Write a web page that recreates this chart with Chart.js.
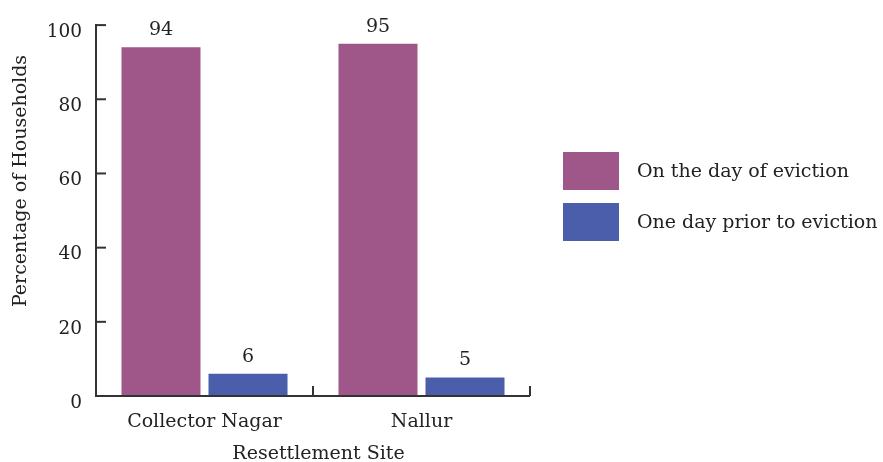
<!DOCTYPE html>
<html>
<head>
<meta charset="utf-8">
<script src="https://cdn.jsdelivr.net/npm/chart.js@4/dist/chart.umd.min.js"></script>
<style>
html,body{margin:0;padding:0;background:#fff;}
#wrap{width:883px;height:462px;position:relative;}
</style>
</head>
<body>
<div id="wrap"><canvas id="c" width="883" height="462"></canvas></div>
<script>
const categories = ["Collector Nagar", "Nallur"];
const seriesNames = ["On the day of eviction", "One day prior to eviction"];
const onDayValues = [94, 95];
const priorDayValues = [6, 5];
const yTicks = [0, 20, 40, 60, 80, 100];
const xTitle = "Resettlement Site";
const yTitle = "Percentage of Households";

const FONT = "'DejaVu Serif', serif";
const TXT = "#222222";
const AXIS = "#333333";
const colors = ["#9e5788", "#4a5eab"];

const axisPlugin = {
  id: 'axisPlugin',
  afterDraw(chart) {
    const ctx = chart.ctx;
    const x = chart.scales.x, y = chart.scales.y;
    const area = chart.chartArea;
    const o = chart.options.plugins.customLayout;
    ctx.save();
    ctx.strokeStyle = AXIS;
    ctx.lineWidth = 2;
    ctx.lineCap = 'butt';
    ctx.beginPath();
    ctx.moveTo(area.left, area.top - 1);
    ctx.lineTo(area.left, area.bottom);
    ctx.lineTo(area.right, area.bottom);
    ctx.stroke();
    yTicks.forEach(v => {
      const py = y.getPixelForValue(v);
      ctx.beginPath();
      ctx.moveTo(area.left, py);
      ctx.lineTo(area.left + 10, py);
      ctx.stroke();
    });
    const step = x.getPixelForValue(1) - x.getPixelForValue(0);
    for (let i = 1; i <= categories.length; i++) {
      const px = x.getPixelForValue(i) - step / 2;
      ctx.beginPath();
      ctx.moveTo(px, area.bottom);
      ctx.lineTo(px, area.bottom - 10);
      ctx.stroke();
    }
    // value labels
    ctx.fillStyle = TXT;
    ctx.font = "19px " + FONT;
    ctx.textAlign = 'center';
    ctx.textBaseline = 'middle';
    chart.data.datasets.forEach((ds, di) => {
      const meta = chart.getDatasetMeta(di);
      meta.data.forEach((bar, i) => {
        ctx.fillText(String(ds.data[i]), bar.x, bar.y - 17);
      });
    });
    // axis titles
    ctx.font = "19px " + FONT;
    ctx.fillText(xTitle, o.xTitleX, o.xTitleY);
    ctx.save();
    ctx.translate(o.yTitleX, o.yTitleY);
    ctx.rotate(-Math.PI / 2);
    ctx.fillText(yTitle, 0, 0);
    ctx.restore();
    // legend
    const lg = o.legend;
    chart.data.datasets.forEach((ds, di) => {
      const top = lg.top + di * lg.spacing;
      ctx.fillStyle = ds.backgroundColor;
      ctx.fillRect(lg.left, top, lg.boxW, lg.boxH);
      ctx.fillStyle = TXT;
      ctx.textAlign = 'left';
      ctx.textBaseline = 'middle';
      ctx.font = "19px " + FONT;
      ctx.fillText(ds.label, lg.left + lg.boxW + lg.gap, top + lg.boxH / 2 + 1);
    });
    ctx.restore();
  }
};

new Chart(document.getElementById('c'), {
  type: 'bar',
  data: {
    labels: categories,
    datasets: [
      { label: seriesNames[0], data: onDayValues, backgroundColor: colors[0] },
      { label: seriesNames[1], data: priorDayValues, backgroundColor: colors[1] }
    ]
  },
  options: {
    responsive: false,
    animation: false,
    devicePixelRatio: 1,
    layout: { padding: { left: 0, right: 353, top: 24.5, bottom: 0 } },
    categoryPercentage: 0.802,
    barPercentage: 0.908,
    plugins: {
      legend: { display: false },
      tooltip: { enabled: false },
      customLayout: {
        xTitleX: 318.5, xTitleY: 454,
        yTitleX: 21, yTitleY: 181,
        legend: { left: 563, top: 152, spacing: 51, boxW: 56, boxH: 38, gap: 18 }
      }
    },
    scales: {
      x: {
        grid: { display: false, drawTicks: false },
        border: { display: false },
        ticks: { color: TXT, font: { family: FONT, size: 19 }, padding: 15, maxRotation: 0 },
        afterFit(s) { s.height = 66; }
      },
      y: {
        min: 0, max: 100,
        grid: { display: false, drawTicks: false },
        border: { display: false },
        afterBuildTicks(s) { s.ticks = yTicks.map(v => ({ value: v })); },
        ticks: { color: TXT, font: { family: FONT, size: 18.5 }, padding: 14, labelOffset: 7 },
        afterFit(s) { s.width = 96; }
      }
    }
  },
  plugins: [axisPlugin]
});
</script>
</body>
</html>
